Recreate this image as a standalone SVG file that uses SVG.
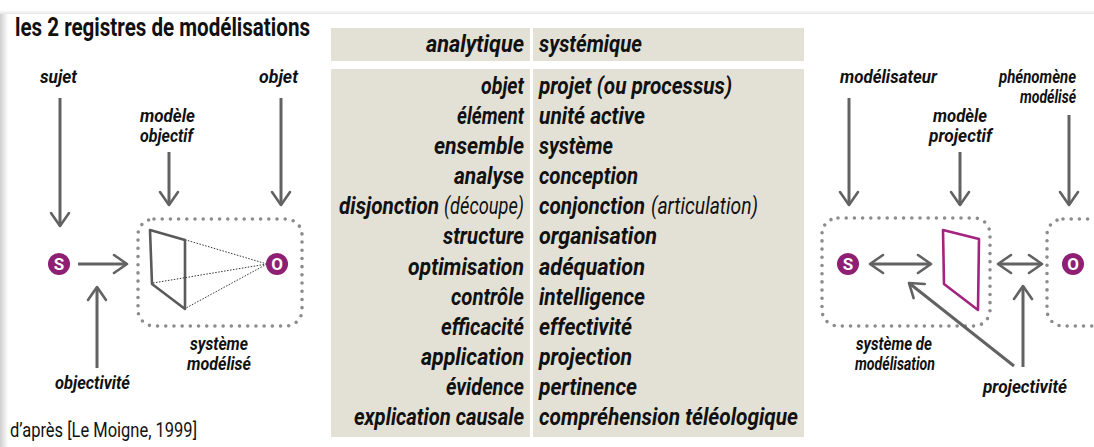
<svg xmlns="http://www.w3.org/2000/svg" width="1094" height="447" viewBox="0 0 1094 447">
<defs>
<style>
.t{font-family:Roboto,"Liberation Sans",sans-serif;font-weight:700;font-style:italic;font-size:23px;fill:#111}
.l{font-family:Roboto,"Liberation Sans",sans-serif;font-weight:400;font-style:italic;font-size:23px;fill:#111}
.lab{font-family:Roboto,"Liberation Sans",sans-serif;font-weight:700;font-style:italic;font-size:18px;fill:#111}
.band{fill:#e3e1d6}
.arr{stroke:#626262;stroke-width:3;fill:none}
.dots{fill:none;stroke:#8c8c8c;stroke-width:3.6;stroke-linecap:round;stroke-dasharray:0 8.2}
.circ{fill:#8e1f72}
.ci{font-family:Roboto,"Liberation Sans",sans-serif;font-weight:700;font-size:17px;fill:#fff;text-anchor:middle}
</style>
<marker id="h" viewBox="-16 -12 20 24" markerWidth="20" markerHeight="24" refX="0" refY="0" orient="auto-start-reverse" markerUnits="userSpaceOnUse">
<path d="M-13,-9 L0,0 L-13,9" fill="none" stroke="#626262" stroke-width="2.6" stroke-linecap="round" stroke-linejoin="round"/>
</marker>
<linearGradient id="sh" x1="0" y1="0" x2="1" y2="0">
<stop offset="0" stop-color="#cfcfcf"/>
<stop offset="1" stop-color="#ffffff"/>
</linearGradient>
<linearGradient id="sht" x1="0" y1="0" x2="0" y2="1">
<stop offset="0" stop-color="#ffffff"/>
<stop offset="1" stop-color="#e6e6e6"/>
</linearGradient>
</defs>
<rect width="1094" height="447" fill="#fff"/>
<rect x="0" y="10" width="1094" height="4" fill="url(#sht)"/>
<rect x="0" y="14" width="8" height="433" fill="url(#sh)"/>

<text x="15" y="36" font-family="Roboto,'Liberation Sans',sans-serif" font-weight="700" font-size="25" fill="#111" textLength="295" lengthAdjust="spacingAndGlyphs">les 2 registres de modélisations</text>
<text x="10" y="437" font-family="Roboto,'Liberation Sans',sans-serif" font-weight="400" font-size="20" fill="#111" textLength="187" lengthAdjust="spacingAndGlyphs">d’après [Le Moigne, 1999]</text>

<g id="table">
<rect class="band" x="331" y="28" width="199" height="33"/>
<rect class="band" x="533" y="28" width="271" height="33"/>
<rect class="band" x="331" y="69" width="199" height="368"/>
<rect class="band" x="533" y="69" width="271" height="368"/>
<g text-anchor="end">
<text class="t" x="524" y="52" textLength="98" lengthAdjust="spacingAndGlyphs">analytique</text>
<text class="t" x="524" y="94" textLength="43" lengthAdjust="spacingAndGlyphs">objet</text>
<text class="t" x="524" y="124" textLength="67" lengthAdjust="spacingAndGlyphs">élément</text>
<text class="t" x="524" y="154" textLength="90" lengthAdjust="spacingAndGlyphs">ensemble</text>
<text class="t" x="524" y="184" textLength="70" lengthAdjust="spacingAndGlyphs">analyse</text>
<text class="l" x="524" y="214" textLength="80" lengthAdjust="spacingAndGlyphs">(découpe)</text>
<text class="t" x="439" y="214" textLength="100" lengthAdjust="spacingAndGlyphs">disjonction</text>
<text class="t" x="524" y="244" textLength="81" lengthAdjust="spacingAndGlyphs">structure</text>
<text class="t" x="524" y="275" textLength="116" lengthAdjust="spacingAndGlyphs">optimisation</text>
<text class="t" x="524" y="305" textLength="73" lengthAdjust="spacingAndGlyphs">contrôle</text>
<text class="t" x="524" y="335" textLength="83" lengthAdjust="spacingAndGlyphs">efficacité</text>
<text class="t" x="524" y="365" textLength="103" lengthAdjust="spacingAndGlyphs">application</text>
<text class="t" x="524" y="395" textLength="78" lengthAdjust="spacingAndGlyphs">évidence</text>
<text class="t" x="524" y="425" textLength="170" lengthAdjust="spacingAndGlyphs">explication causale</text>
</g>
<g>
<text class="t" x="539" y="52" textLength="103" lengthAdjust="spacingAndGlyphs">systémique</text>
<text class="t" x="539" y="94" textLength="193" lengthAdjust="spacingAndGlyphs">projet (ou processus)</text>
<text class="t" x="539" y="124" textLength="106" lengthAdjust="spacingAndGlyphs">unité active</text>
<text class="t" x="539" y="154" textLength="74" lengthAdjust="spacingAndGlyphs">système</text>
<text class="t" x="539" y="184" textLength="99" lengthAdjust="spacingAndGlyphs">conception</text>
<text class="t" x="539" y="214" textLength="106" lengthAdjust="spacingAndGlyphs">conjonction</text>
<text class="l" x="651" y="214" textLength="107" lengthAdjust="spacingAndGlyphs">(articulation)</text>
<text class="t" x="539" y="244" textLength="118" lengthAdjust="spacingAndGlyphs">organisation</text>
<text class="t" x="539" y="275" textLength="106" lengthAdjust="spacingAndGlyphs">adéquation</text>
<text class="t" x="539" y="305" textLength="106" lengthAdjust="spacingAndGlyphs">intelligence</text>
<text class="t" x="539" y="335" textLength="93" lengthAdjust="spacingAndGlyphs">effectivité</text>
<text class="t" x="539" y="365" textLength="93" lengthAdjust="spacingAndGlyphs">projection</text>
<text class="t" x="539" y="395" textLength="98" lengthAdjust="spacingAndGlyphs">pertinence</text>
<text class="t" x="539" y="425" textLength="259" lengthAdjust="spacingAndGlyphs">compréhension téléologique</text>
</g>
</g>

<g id="left-system">
<rect class="dots" x="138" y="219" width="164" height="107" rx="16"/>
</g>
<g id="left-model">
<polygon points="150,230 185,240 185,309 152,284" fill="none" stroke="#5a5a5a" stroke-width="2.6" stroke-linejoin="round"/>
<g stroke="#333" stroke-width="1" stroke-dasharray="1.5 1.5" fill="none">
<line x1="267" y1="264" x2="186" y2="240"/>
<line x1="267" y1="264" x2="153" y2="283"/>
<line x1="267" y1="264" x2="186" y2="308"/>
</g>
</g>
<g id="left-S"><circle class="circ" cx="59" cy="264" r="11"/><text class="ci" x="59" y="270">S</text></g>
<g id="left-O"><circle class="circ" cx="277" cy="264" r="11"/><text class="ci" x="277" y="270">O</text></g>
<g id="left-labels">
<text class="lab" x="40" y="83" textLength="37" lengthAdjust="spacingAndGlyphs">sujet</text>
<text class="lab" x="259" y="83" textLength="39" lengthAdjust="spacingAndGlyphs">objet</text>
<text class="lab" x="140" y="122" textLength="55" lengthAdjust="spacingAndGlyphs">modèle</text>
<text class="lab" x="140" y="142" textLength="53" lengthAdjust="spacingAndGlyphs">objectif</text>
<text class="lab" x="190" y="350" textLength="58" lengthAdjust="spacingAndGlyphs">système</text>
<text class="lab" x="187" y="370" textLength="64" lengthAdjust="spacingAndGlyphs">modélisé</text>
<text class="lab" x="55" y="389" textLength="75" lengthAdjust="spacingAndGlyphs">objectivité</text>
</g>

<g id="right-systems">
<rect class="dots" x="822" y="218" width="168" height="108" rx="16"/>
<rect class="dots" x="1047" y="219" width="70" height="107" rx="16"/>
</g>
<g id="right-model">
<polygon points="943,230 979,239 978,310 944,284" fill="none" stroke="#a3237f" stroke-width="2.6" stroke-linejoin="round"/>
</g>
<g id="right-S"><circle class="circ" cx="848" cy="264" r="11"/><text class="ci" x="848" y="270">S</text></g>
<g id="right-O"><circle class="circ" cx="1073" cy="264" r="11"/><text class="ci" x="1073" y="270">O</text></g>
<g id="right-labels">
<text class="lab" x="840" y="83" textLength="97" lengthAdjust="spacingAndGlyphs">modélisateur</text>
<text class="lab" x="1076" y="83" text-anchor="end" textLength="77" lengthAdjust="spacingAndGlyphs">phénomène</text>
<text class="lab" x="1076" y="103" text-anchor="end" textLength="56" lengthAdjust="spacingAndGlyphs">modélisé</text>
<text class="lab" x="933" y="122" textLength="54" lengthAdjust="spacingAndGlyphs">modèle</text>
<text class="lab" x="929" y="142" textLength="63" lengthAdjust="spacingAndGlyphs">projectif</text>
<text class="lab" x="856" y="350" textLength="76" lengthAdjust="spacingAndGlyphs">système de</text>
<text class="lab" x="855" y="370" textLength="80" lengthAdjust="spacingAndGlyphs">modélisation</text>
<text class="lab" x="983" y="393" textLength="84" lengthAdjust="spacingAndGlyphs">projectivité</text>
</g>

<g id="connectors">
<path class="arr" d="M60,98 V226" marker-end="url(#h)"/>
<path class="arr" d="M169,152 V205" marker-end="url(#h)"/>
<path class="arr" d="M281,98 V205" marker-end="url(#h)"/>
<path class="arr" d="M78,264 H127" marker-end="url(#h)"/>
<path class="arr" d="M97,368 V287" marker-end="url(#h)"/>
<path class="arr" d="M849,98 V205" marker-end="url(#h)"/>
<path class="arr" d="M960,152 V205" marker-end="url(#h)"/>
<path class="arr" d="M1069,115 V205" marker-end="url(#h)"/>
<path class="arr" d="M870,264 H931" marker-start="url(#h)" marker-end="url(#h)"/>
<path class="arr" d="M998,264 H1042" marker-start="url(#h)" marker-end="url(#h)"/>
<path class="arr" d="M1014,366 L909,283" marker-end="url(#h)"/>
<path class="arr" d="M1023,367 V286" marker-end="url(#h)"/>
</g>
</svg>
